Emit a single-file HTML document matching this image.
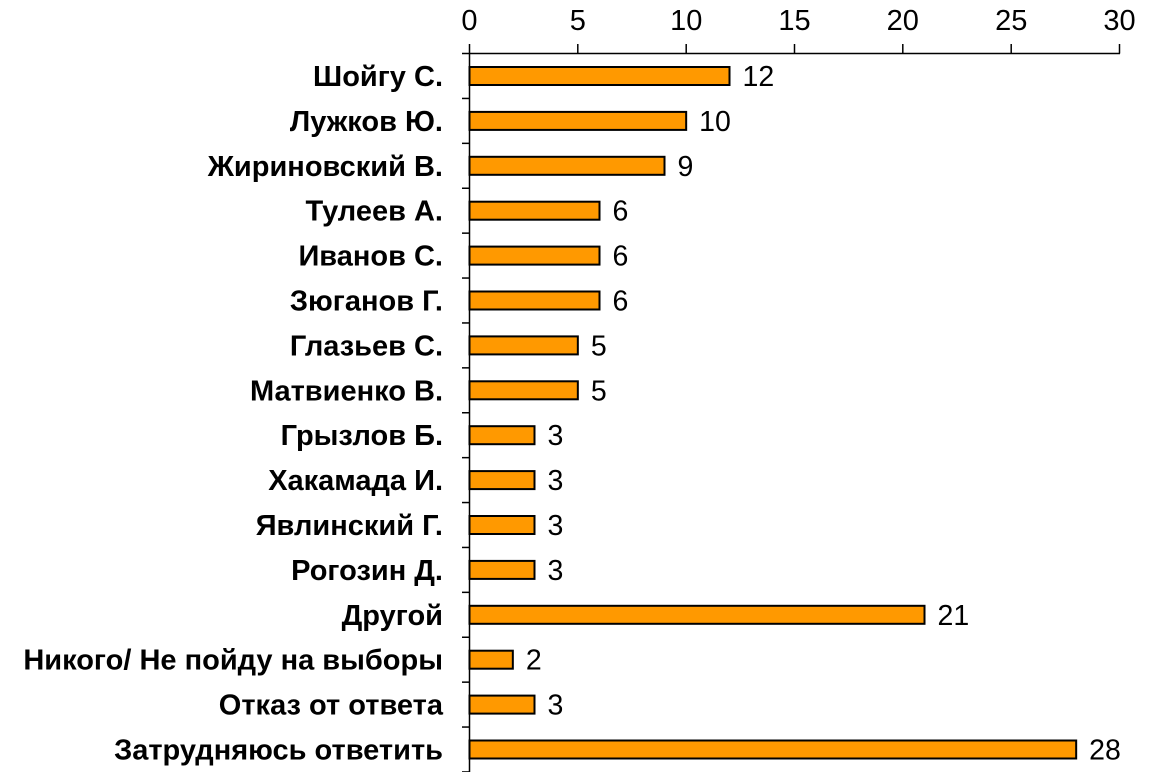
<!DOCTYPE html>
<html><head><meta charset="utf-8"><style>
html,body{margin:0;padding:0;background:#fff;}
svg{display:block;}
.t{font-family:"Liberation Sans",Arial,sans-serif;}
</style></head><body>
<svg width="1161" height="772" xmlns="http://www.w3.org/2000/svg">
<g class="t" font-size="29" fill="#000" text-anchor="middle">
<text x="469.5" y="30">0</text>
<text x="577.8" y="30">5</text>
<text x="686.2" y="30">10</text>
<text x="794.5" y="30">15</text>
<text x="902.8" y="30">20</text>
<text x="1011.2" y="30">25</text>
<text x="1119.5" y="30">30</text>
</g>
<g stroke="#000" stroke-width="1.5" fill="none">
<line x1="462" y1="53.5" x2="1120" y2="53.5"/>
<line x1="469.5" y1="44" x2="469.5" y2="772"/>
<line x1="577.8" y1="44" x2="577.8" y2="53.5"/>
<line x1="686.2" y1="44" x2="686.2" y2="53.5"/>
<line x1="794.5" y1="44" x2="794.5" y2="53.5"/>
<line x1="902.8" y1="44" x2="902.8" y2="53.5"/>
<line x1="1011.2" y1="44" x2="1011.2" y2="53.5"/>
<line x1="1119.5" y1="44" x2="1119.5" y2="53.5"/>
</g>
<g id="rows"></g>
</svg>
<script>
var d=[["Шойгу С.",12],["Лужков Ю.",10],["Жириновский В.",9],["Тулеев А.",6],["Иванов С.",6],["Зюганов Г.",6],["Глазьев С.",5],["Матвиенко В.",5],["Грызлов Б.",3],["Хакамада И.",3],["Явлинский Г.",3],["Рогозин Д.",3],["Другой",21],["Никого/ Не пойду на выборы",2],["Отказ от ответа",3],["Затрудняюсь ответить",28]];
var g=document.getElementById("rows"),s="";
for(var i=0;i<d.length;i++){var c=76+i*44.9,w=d[i][1]*21.667;
s+='<rect x="469.5" y="'+(c-9)+'" width="'+w+'" height="18" fill="#FF9900" stroke="#000" stroke-width="2"/>';
s+='<text class="t" x="443" y="'+(c+10)+'" font-size="29" font-weight="bold" text-anchor="end">'+d[i][0]+'</text>';
s+='<text class="t" x="'+(469.5+w+13)+'" y="'+(c+10)+'" font-size="28.5">'+d[i][1]+'</text>';
s+='<line x1="462" y1="'+(c+22.45)+'" x2="469.5" y2="'+(c+22.45)+'" stroke="#000" stroke-width="1.5"/>';}
g.innerHTML=s;
</script>
</body></html>
